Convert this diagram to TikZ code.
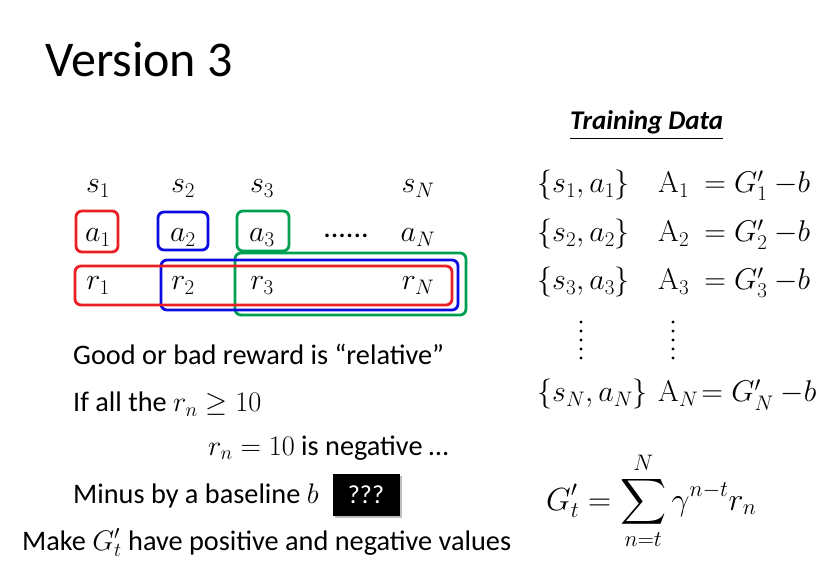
\RequirePackage{fix-cm}
\documentclass[tikz,border=0pt]{standalone}
\usepackage{amsmath,amssymb}
\usepackage[no-math]{fontspec}
\setmainfont{Carlito}
\usetikzlibrary{shadows}
\definecolor{boxred}{RGB}{235,30,35}
\definecolor{boxblue}{RGB}{10,10,225}
\definecolor{boxgreen}{RGB}{0,160,80}
\tikzset{
  hand/.style={rounded corners=6pt, line width=2.8pt},
  txt/.style={anchor=base west, inner sep=0pt, font=\fontsize{28.3}{32}\selectfont},
  sym/.style={anchor=base, inner sep=0pt, font=\fontsize{30}{34}\selectfont},
}

\begin{document}
\begin{tikzpicture}[x=1pt,y=-1pt]
\useasboundingbox (0,0) rectangle (823,588);
\node[anchor=base west, inner sep=0pt, font=\fontsize{50}{56}\selectfont] (title) at (45,77) {Version 3};

% states, actions, rewards
\foreach \i/\x in {1/98,2/183,3/262,N/418}{
  \node[sym] (s\i) at (\x,193) {$s_{\i}$};
  \node[sym] (a\i) at (\x,242) {$a_{\i}$};
  \node[sym] (r\i) at (\x,290) {$r_{\i}$};
}
\node[sym] (adots) at (346,238) {......};

% the boxes
\draw[hand, boxred] (76,211) rectangle (118,252);
\draw[hand, boxblue] (158,212) rectangle (208,250);
\draw[hand, boxgreen] (237,211) rectangle (289,251);
\draw[hand, boxgreen] (235,253) rectangle (466,315);
\draw[hand, boxblue] (161,260) rectangle (458,310);
\draw[hand, boxred] (75,266) rectangle (452,305);

% training data
\node[anchor=base west, inner sep=0pt, font=\fontsize{27}{30}\selectfont\bfseries\itshape] (train) at (570,130) {\underline{Training Data}};
\foreach \i/\y in {1/193,2/242,3/290}{
  \node[sym, anchor=base west] (pair\i) at (537,\y) {$\{s_{\i},a_{\i}\}$};
  \node[sym, anchor=base west] (adv\i) at (658,\y) {$\mathrm{A}_{\i}\ = G'_{\i}\ {-b}$};
}
\node[sym, anchor=base west] (pairN) at (537,402) {$\{s_N,a_N\}$};
\node[sym, anchor=base west] (advN) at (658,402) {$\mathrm{A}_N\!= G'_N\ {-b}$};
\foreach \y in {322,331,...,360}{
  \fill (581,\y) circle (1.6);
  \fill (673,\y) circle (1.6);
}
\node[anchor=base west, inner sep=0pt, font=\fontsize{32}{36}\selectfont] (gdef) at (546,510) {$\displaystyle G'_t = \sum_{n=t}^{N} \gamma^{n-t} r_n$};

% comments on the left
\node[txt] (good) at (73,365) {Good or bad reward is “relative”};
\node[txt] (ifall) at (73,412) {If all the $r_n \geq 10$};
\node[txt] (neg) at (208,455) {$r_n = 10$ is negative …};
\node[txt] (minus) at (73,503) {Minus by a baseline $b$};
\node[fill=black, text=white, drop shadow, minimum width=67pt, minimum height=42pt, font=\fontsize{26}{30}\selectfont] (qqq) at (366,495) {???};
\node[txt] (make) at (22,550) {Make $G'_t$ have positive and negative values};
\end{tikzpicture}
\end{document}
